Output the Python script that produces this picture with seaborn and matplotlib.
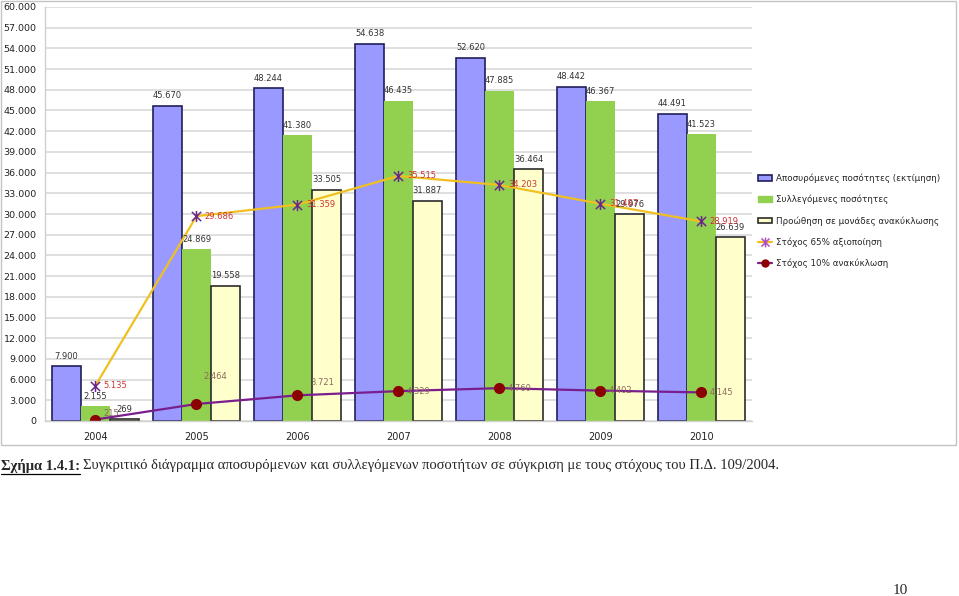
import numpy as np
import pandas as pd
import matplotlib
matplotlib.use("Agg")
import matplotlib.pyplot as plt
import seaborn as sns
from matplotlib.patches import Rectangle, Patch
from matplotlib.lines import Line2D
from matplotlib.path import Path
from matplotlib.ticker import FuncFormatter, MultipleLocator, FixedLocator

# data
years = ["2004", "2005", "2006", "2007", "2008", "2009", "2010"]
withdrawn = [7900, 45670, 48244, 54638, 52620, 48442, 44491]
collected = [2155, 24869, 41380, 46435, 47885, 46367, 41523]
recycled = [269, 19558, 33505, 31887, 36464, 29976, 26639]
target_65 = [5135, 29686, 31359, 35515, 34203, 31487, 28919]
target_10 = [215, 2464, 3721, 4329, 4760, 4402, 4145]

bar_names = ["Αποσυρόμενες ποσότητες (εκτίμηση)",
             "Συλλεγόμενες ποσότητες",
             "Προώθηση σε μονάδες ανακύκλωσης"]
line_names = ["Στόχος 65% αξιοποίηση", "Στόχος 10% ανακύκλωση"]

bar_colors = ["#9999FF", "#92D050", "#FFFFCC"]
bar_edges = ["#1F1F5A", "none", "#2B2B2B"]


def fmt(v):
    return f"{v:,.0f}".replace(",", ".")


sns.set_theme(style="white")
plt.rcParams["font.family"] = ["DejaVu Sans"]

df = pd.DataFrame({
    "year": years * 3,
    "value": withdrawn + collected + recycled,
    "series": [bar_names[0]] * 7 + [bar_names[1]] * 7 + [bar_names[2]] * 7,
})

W, H = 959, 596
fig = plt.figure(figsize=(W / 100, H / 100), dpi=100)
ax = fig.add_axes([45 / W, (H - 421) / H, (752 - 45) / W, (421 - 7) / H])

sns.barplot(data=df, x="year", y="value", hue="series", hue_order=bar_names,
            palette=bar_colors, saturation=1, width=0.86, gap=0,
            legend=False, ax=ax)

for cont, ec in zip(ax.containers, bar_edges):
    for bar in cont:
        bar.set_edgecolor(ec)
        bar.set_linewidth(1.2 if ec != "none" else 0)
    ax.bar_label(cont, labels=[fmt(v) for v in cont.datavalues],
                 padding=4, fontsize=6, color="#333333")

pos = np.arange(len(years))

# 65% target line (star marker: x with a vertical bar)
star = Path([(-1, -1), (1, 1), (-1, 1), (1, -1), (0, -1.2), (0, 1.2)],
            [Path.MOVETO, Path.LINETO, Path.MOVETO, Path.LINETO,
             Path.MOVETO, Path.LINETO])
sns.lineplot(x=pos, y=target_65, color="#F0C020", linewidth=1.6,
             marker=star, markersize=8, markeredgecolor="#6A2A8A",
             markeredgewidth=1.1, ax=ax)
for x, v in zip(pos, target_65):
    ax.annotate(fmt(v), (x, v), xytext=(6, 0), textcoords="offset points",
                va="center", ha="left", fontsize=6, color="#CC3333")

# 10% target line
sns.lineplot(x=pos, y=target_10, color="#7A1E8E", linewidth=1.6,
             marker="o", markersize=7, markerfacecolor="#8B0000",
             markeredgecolor="#8B0000", markeredgewidth=1, ax=ax)
lbl_off = [(6, 4), (5, 20), (9, 9), (6, 0), (6, 0), (6, 0), (6, 0)]
for x, v, off in zip(pos, target_10, lbl_off):
    ax.annotate(fmt(v), (x, v), xytext=off, textcoords="offset points",
                va="center", ha="left", fontsize=6, color="#8C6A5C")

ax.set_xlim(-0.5, 6.5)
ax.set_ylim(0, 60000)
ax.yaxis.set_major_locator(MultipleLocator(3000))
ax.yaxis.set_major_formatter(FuncFormatter(lambda v, p: fmt(v)))
ax.grid(axis="y", color="#D9D9D9", linewidth=1.2)
ax.set_axisbelow(True)
ax.set_xlabel("")
ax.set_ylabel("")
for s in ["top", "right"]:
    ax.spines[s].set_visible(False)
for s in ["left", "bottom"]:
    ax.spines[s].set_color("#D0D0D0")
    ax.spines[s].set_linewidth(1)
ax.xaxis.set_minor_locator(FixedLocator(np.arange(-0.5, 7, 1)))
ax.tick_params(axis="x", which="major", length=0, pad=8, labelsize=7, labelcolor="#222222")
ax.tick_params(axis="x", which="minor", length=4, color="#C8C8C8", direction="out")
ax.tick_params(axis="y", length=0, pad=6, labelsize=6.8, labelcolor="#222222")

handles = [
    Patch(facecolor=bar_colors[0], edgecolor=bar_edges[0], linewidth=1.2),
    Patch(facecolor=bar_colors[1], edgecolor=bar_colors[1]),
    Patch(facecolor=bar_colors[2], edgecolor=bar_edges[2], linewidth=1.2),
    Line2D([], [], color="#F0C020", lw=1.6, marker=star, ms=7,
           mec="#B050C0", mew=1.1),
    Line2D([], [], color="#7A1E8E", lw=1.6, marker="o", ms=5,
           mfc="#8B0000", mec="#8B0000"),
]
fig.legend(handles, bar_names + line_names, loc="upper left",
           bbox_to_anchor=(754 / W, 1 - 170 / H), frameon=False,
           fontsize=6.3, handlelength=1.7, handleheight=0.6,
           handletextpad=0.4, labelspacing=1.35, borderaxespad=0)

# chart frame
fig.add_artist(Rectangle((1 / W, 1 - 445 / H), 955 / W, 444 / H,
                         transform=fig.transFigure, fill=False,
                         edgecolor="#C4C4C4", linewidth=1))

# caption below the chart
fig.canvas.draw()
r = fig.canvas.get_renderer()
cap1 = fig.text(1 / W, 1 - 466 / H, "Σχήμα 1.4.1:", fontfamily="Liberation Serif",
                fontsize=10.5, fontweight="bold", va="center", ha="left")
bb = cap1.get_window_extent(r)
fig.add_artist(Line2D([bb.x0 / W, bb.x1 / W], [(bb.y0 - 1) / H] * 2,
                      transform=fig.transFigure, color="black", lw=0.9))
fig.text((bb.x1 + 3) / W, 1 - 466 / H,
         "Συγκριτικό διάγραμμα αποσυρόμενων και συλλεγόμενων ποσοτήτων σε σύγκριση με τους στόχους του Π.Δ. 109/2004.",
         fontfamily="Liberation Serif", fontsize=10.5, va="center", ha="left")
fig.text(900 / W, 1 - 590 / H, "10", fontfamily="Liberation Serif",
         fontsize=11, va="center", ha="center")

fig.savefig("out.png", dpi=100)
